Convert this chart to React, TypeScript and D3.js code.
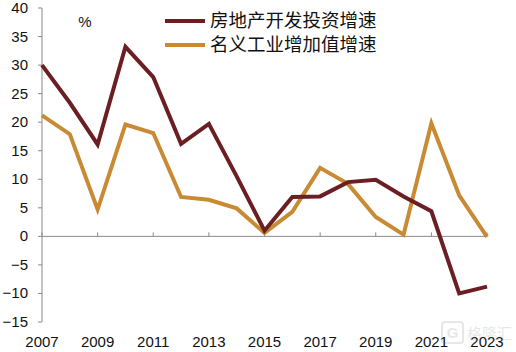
import React from "react";
import * as d3 from "d3";

const years = [2007, 2008, 2009, 2010, 2011, 2012, 2013, 2014, 2015, 2016, 2017, 2018, 2019, 2020, 2021, 2022, 2023];
const realEstate = [30.0, 23.4, 16.1, 33.2, 27.9, 16.2, 19.7, 10.5, 1.0, 6.9, 7.0, 9.5, 9.9, 7.0, 4.4, -10.0, -8.8];
const industry = [21.2, 17.9, 4.7, 19.6, 18.1, 6.9, 6.4, 4.9, 0.6, 4.3, 12.0, 9.2, 3.4, 0.3, 19.8, 7.2, -0.1];
const yTicks = [-15, -10, -5, 0, 5, 10, 15, 20, 25, 30, 35, 40];
const xTickYears = [2007, 2009, 2011, 2013, 2015, 2017, 2019, 2021, 2023];
const seriesNames = ["房地产开发投资增速", "名义工业增加值增速"];
const colors = ["#6B1F22", "#C88A33"];

export default function App() {
  const W = 516, H = 352;
  const x = d3.scaleLinear().domain([2007, 2023]).range([42, 487]);
  const y = d3.scaleLinear().domain([-15, 40]).range([322, 8]);
  const line = d3.line<number>().x((_, i) => x(years[i])).y((d) => y(d));
  const font = "'Liberation Sans', Arial, sans-serif";
  const cjk = "'Noto Sans CJK SC', sans-serif";
  const axisColor = "#8a8a8a";
  return (
    <svg width={W} height={H} style={{ position: "absolute", left: 0, top: 0, background: "#fff" }}>
      {/* y axis */}
      <line x1={x(2007)} x2={x(2007)} y1={y(40)} y2={y(-15)} stroke={axisColor} strokeWidth={1} />
      {yTicks.map((t) => (
        <g key={t}>
          <line x1={x(2007) - 4} x2={x(2007)} y1={y(t)} y2={y(t)} stroke={axisColor} />
          <text x={28} y={y(t) + 5} textAnchor="end" fontFamily={font} fontSize={15} fill="#111">
            {t < 0 ? "\u2212" + Math.abs(t) : t}
          </text>
        </g>
      ))}
      {/* x axis at zero */}
      <line x1={x(2007)} x2={x(2023)} y1={y(0)} y2={y(0)} stroke={axisColor} strokeWidth={1} />
      {xTickYears.map((yr) => (
        <g key={yr}>
          <line x1={x(yr)} x2={x(yr)} y1={y(0) - 4} y2={y(0)} stroke={axisColor} />
          <text x={x(yr)} y={347} textAnchor="middle" fontFamily={font} fontSize={15} fill="#111">
            {yr}
          </text>
        </g>
      ))}
      <text x={85} y={27} textAnchor="middle" fontFamily={font} fontSize={15} fill="#111">%</text>
      {/* lines */}
      <path d={line(industry) || ""} fill="none" stroke={colors[1]} strokeWidth={4} strokeLinejoin="miter" />
      <path d={line(realEstate) || ""} fill="none" stroke={colors[0]} strokeWidth={4} strokeLinejoin="miter" />
      {/* legend */}
      {seriesNames.map((n, i) => (
        <g key={n}>
          <line x1={165} x2={205} y1={21 + i * 24} y2={21 + i * 24} stroke={colors[i]} strokeWidth={4} />
          <text x={210} y={27 + i * 24} fontFamily={cjk} fontSize={18.5} fill="#111">{n}</text>
        </g>
      ))}
      {/* watermark */}
      <g opacity={0.15}>
        <rect x={442} y={322} width={21} height={21} rx={3} fill="none" stroke="#666" strokeWidth={2} />
        <text x={452.5} y={338} textAnchor="middle" fontFamily={font} fontSize={15} fontWeight="bold" fill="#666">G</text>
        <text x={467} y={339} fontFamily={cjk} fontSize={15} fill="#666">格隆汇</text>
      </g>
    </svg>
  );
}
